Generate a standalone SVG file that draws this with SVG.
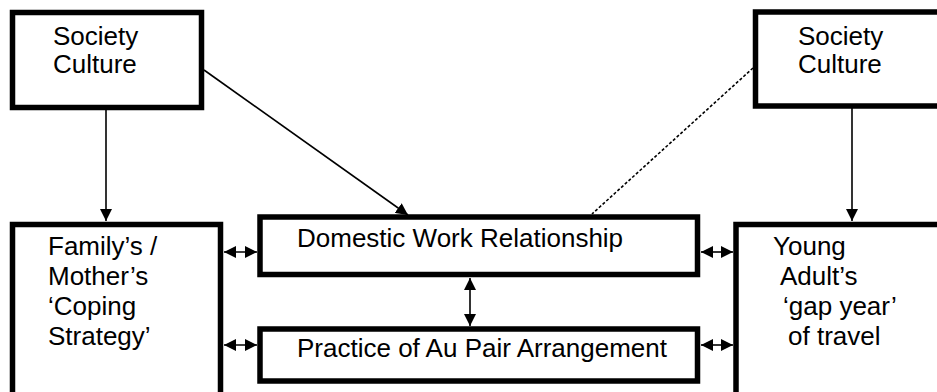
<svg xmlns="http://www.w3.org/2000/svg" width="937" height="392" viewBox="0 0 937 392">
<style>
.box{fill:#fff;stroke:#000;stroke-width:5.5}
.t{font-family:"Liberation Sans",Arial,sans-serif;font-size:26px;fill:#000}
.ln{stroke:#000;stroke-width:1.6;fill:none}
.dash{stroke:#000;stroke-width:1.6;fill:none;stroke-dasharray:3 2}
</style>
<defs>
<marker id="ah" markerUnits="userSpaceOnUse" markerWidth="12" markerHeight="12" viewBox="0 0 12 12" refX="12" refY="6" orient="auto">
<path d="M0,0 L12,6 L0,12 Z" fill="#000"/>
</marker>
<marker id="as" markerUnits="userSpaceOnUse" markerWidth="12" markerHeight="12" viewBox="0 0 12 12" refX="0" refY="6" orient="auto">
<path d="M12,0 L0,6 L12,12 Z" fill="#000"/>
</marker>
</defs>
<rect width="937" height="392" fill="#fff"/>
<g id="connectors">
<line class="ln" x1="106" y1="110" x2="106" y2="221" marker-end="url(#ah)"/>
<line class="ln" x1="852" y1="108" x2="852" y2="221" marker-end="url(#ah)"/>
<line class="ln" x1="204" y1="70" x2="408" y2="215" marker-end="url(#ah)"/>
<line class="dash" x1="753" y1="68" x2="592" y2="214"/>
<line class="ln" x1="224" y1="252" x2="257" y2="252" marker-start="url(#as)" marker-end="url(#ah)"/>
<line class="ln" x1="224" y1="345" x2="257" y2="345" marker-start="url(#as)" marker-end="url(#ah)"/>
<line class="ln" x1="701" y1="252" x2="733" y2="252" marker-start="url(#as)" marker-end="url(#ah)"/>
<line class="ln" x1="701" y1="345" x2="733" y2="345" marker-start="url(#as)" marker-end="url(#ah)"/>
<line class="ln" x1="470" y1="278" x2="470" y2="326" marker-start="url(#as)" marker-end="url(#ah)"/>
</g>
<g id="society-left">
<rect class="box" x="12.5" y="12.5" width="189" height="95"/>
<text class="t" x="53" y="45">Society</text>
<text class="t" x="53" y="73">Culture</text>
</g>
<g id="society-right">
<rect class="box" x="755.5" y="12" width="200" height="94"/>
<text class="t" x="798" y="45">Society</text>
<text class="t" x="798" y="73">Culture</text>
</g>
<g id="family">
<rect class="box" x="12.5" y="224.5" width="208" height="190"/>
<text class="t" x="48" y="255">Family’s /</text>
<text class="t" x="48" y="285">Mother’s</text>
<text class="t" x="48" y="315">‘Coping</text>
<text class="t" x="48" y="345">Strategy’</text>
</g>
<g id="domestic">
<rect class="box" x="260" y="217" width="437.5" height="57.5"/>
<text class="t" x="297" y="247">Domestic Work Relationship</text>
</g>
<g id="practice">
<rect class="box" x="260" y="329" width="437.5" height="52"/>
<text class="t" x="297" y="357">Practice of Au Pair Arrangement</text>
</g>
<g id="young">
<rect class="box" x="736" y="224.5" width="220" height="190"/>
<text class="t" x="773" y="255">Young</text>
<text class="t" x="780" y="285">Adult’s</text>
<text class="t" x="783" y="315">‘gap year’</text>
<text class="t" x="788" y="345">of travel</text>
</g>
</svg>
